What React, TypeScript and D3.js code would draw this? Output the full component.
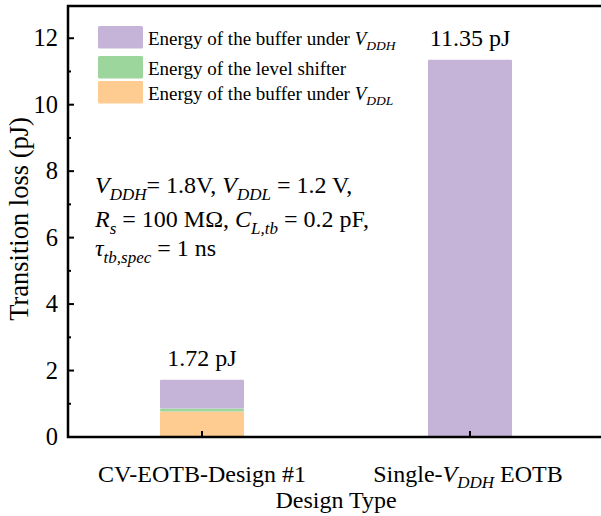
import React from "react";
import * as d3 from "d3";

const categories = ["CV-EOTB-Design #1", "Single-VDDH EOTB"];
const bufferLow = [0.77, 0];
const levelShifter = [0.09, 0];
const bufferHigh = [0.86, 11.35];
const totals = ["1.72 pJ", "11.35 pJ"];
const yTicks = [0, 2, 4, 6, 8, 10, 12];
const yMinorTicks = [1, 3, 5, 7, 9, 11];

const colors = { high: "#c6b4d8", shifter: "#9cd69c", low: "#fecb90" };
const font = "'Liberation Serif', 'Times New Roman', serif";

const W = 601;
const H = 516;
const left = 68;
const right = 604;
const top = 6;
const bottom = 437;

export default function App() {
  const y = d3.scaleLinear().domain([0, 13]).range([bottom, 5]);
  const x = d3.scalePoint<string>().domain(categories).range([left, right]).padding(0.5);
  const barW = 84;

  const stack = categories.map((c, i) => {
    const segs = [
      { key: "low", v: bufferLow[i] },
      { key: "shifter", v: levelShifter[i] },
      { key: "high", v: bufferHigh[i] },
    ];
    let acc = 0;
    return segs.map((s) => {
      const y0 = acc;
      acc += s.v;
      return { ...s, y0, y1: acc, cat: c };
    });
  });

  const legend = [
    { key: "high", label: "Energy of the buffer under ", sub: "DDH", ty: 26 },
    { key: "shifter", label: "Energy of the level shifter", sub: "", ty: 56 },
    { key: "low", label: "Energy of the buffer under ", sub: "DDL", ty: 81 },
  ];

  return (
    <svg
      width={W}
      height={H}
      style={{ position: "absolute", left: 0, top: 0, background: "#fff" }}
      fontFamily={font}
    >
      {/* bars */}
      {stack.map((segs, i) =>
        segs
          .filter((s) => s.v > 0)
          .map((s) => (
            <rect
              key={i + s.key}
              x={(x(s.cat) as number) - barW / 2}
              y={y(s.y1)}
              width={barW}
              height={y(s.y0) - y(s.y1)}
              fill={(colors as any)[s.key]}
              rx={1}
            />
          ))
      )}

      {/* value labels */}
      {categories.map((c, i) => {
        const total = bufferLow[i] + levelShifter[i] + bufferHigh[i];
        return (
          <text key={c} x={x(c)} y={y(total) - 13.5} textAnchor="middle" fontSize={24}>
            {totals[i]}
          </text>
        );
      })}

      {/* frame */}
      <path
        d={`M${right + 10},${top} H${left} V${bottom} H${right + 10}`}
        fill="none"
        stroke="#000"
        strokeWidth={2.5}
      />

      {/* y ticks */}
      {yTicks.map((t) => (
        <g key={t}>
          <line x1={left} x2={left + 6} y1={y(t)} y2={y(t)} stroke="#000" strokeWidth={2} />
          <text x={58} y={y(t) + 8} textAnchor="end" fontSize={24.5}>
            {t}
          </text>
        </g>
      ))}
      {yMinorTicks.map((t) => (
        <line key={t} x1={left} x2={left + 3} y1={y(t)} y2={y(t)} stroke="#000" strokeWidth={2} />
      ))}

      {/* x ticks */}
      {categories.map((c) => (
        <line key={c} x1={x(c)} x2={x(c)} y1={bottom} y2={bottom - 6} stroke="#000" strokeWidth={2} />
      ))}
      <text x={x(categories[0])} y={482} textAnchor="middle" fontSize={24}>
        CV-EOTB-Design #1
      </text>
      <text x={(x(categories[1]) as number) - 2} y={482} textAnchor="middle" fontSize={24}>
        Single-
        <tspan fontStyle="italic">V</tspan>
        <tspan fontStyle="italic" fontSize={17} dy={6}>
          DDH
        </tspan>
        <tspan dy={-6}> EOTB</tspan>
      </text>
      <text x={(left + right) / 2} y={508} textAnchor="middle" fontSize={24}>
        Design Type
      </text>
      <text
        transform={`translate(28,219) rotate(-90)`}
        textAnchor="middle"
        fontSize={26.5}
      >
        Transition loss (pJ)
      </text>

      {/* legend */}
      {legend.map((l) => (
        <g key={l.key} transform={`translate(98,${l.ty})`}>
          <rect width={45} height={22.5} fill={(colors as any)[l.key]} rx={1.5} />
          <text x={50} y={19} fontSize={19}>
            {l.label}
            {l.sub && (
              <>
                <tspan fontStyle="italic">V</tspan>
                <tspan fontStyle="italic" fontSize={13.5} dy={5}>
                  {l.sub}
                </tspan>
              </>
            )}
          </text>
        </g>
      ))}

      {/* annotation */}
      <g fontSize={24}>
        <text x={95} y={193}>
          <tspan fontStyle="italic">V</tspan>
          <tspan fontStyle="italic" fontSize={17} dy={7}>DDH</tspan>
          <tspan dy={-7}>= 1.8V, </tspan>
          <tspan fontStyle="italic">V</tspan>
          <tspan fontStyle="italic" fontSize={17} dy={7}>DDL</tspan>
          <tspan dy={-7}> = 1.2 V,</tspan>
        </text>
        <text x={95} y={226.5}>
          <tspan fontStyle="italic">R</tspan>
          <tspan fontStyle="italic" fontSize={17} dy={7}>s</tspan>
          <tspan dy={-7}> = 100 MΩ, </tspan>
          <tspan fontStyle="italic">C</tspan>
          <tspan fontStyle="italic" fontSize={17} dy={7}>L,tb</tspan>
          <tspan dy={-7}> = 0.2 pF,</tspan>
        </text>
        <text x={95} y={256}>
          <tspan fontStyle="italic">τ</tspan>
          <tspan fontStyle="italic" fontSize={17} dy={7}>tb,spec</tspan>
          <tspan dy={-7}> = 1 ns</tspan>
        </text>
      </g>
    </svg>
  );
}
